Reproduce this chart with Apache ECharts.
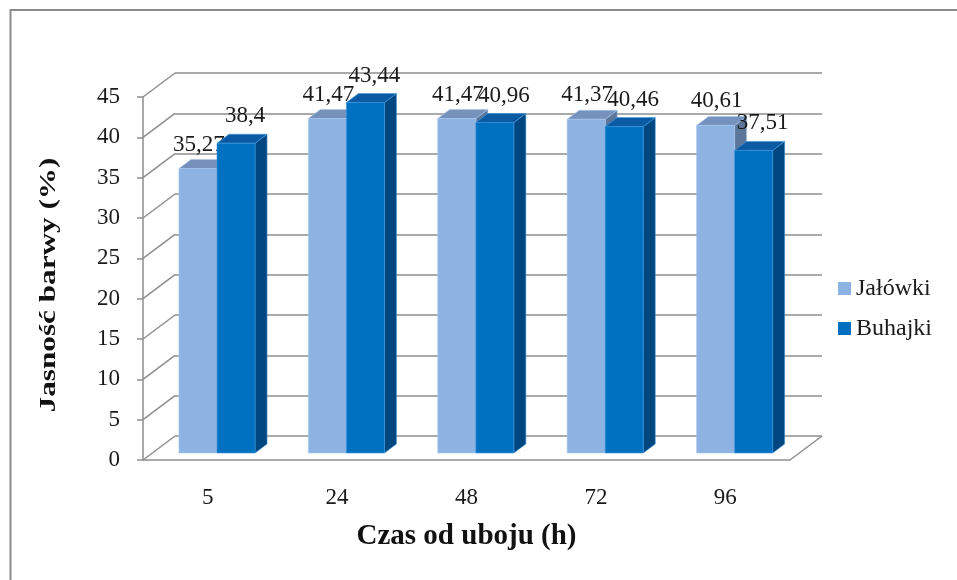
<!DOCTYPE html>
<html>
<head>
<meta charset="utf-8">
<script src="https://cdn.jsdelivr.net/npm/echarts@6/dist/echarts.min.js"></script>
<style>
  html, body { margin: 0; padding: 0; background: #fff; }
  #chart { width: 957px; height: 580px; }
</style>
</head>
<body>
<div id="chart"></div>
<script>
// Czas od uboju (h) – kategorie osi X
const categories = ['5', '24', '48', '72', '96'];
// Jasność barwy (%) dla obu grup
const jalowki = [35.27, 41.47, 41.47, 41.37, 40.61];
const buhajki = [38.4, 43.44, 40.96, 40.46, 37.51];
// Podziałka osi Y
const yTicks = [0, 5, 10, 15, 20, 25, 30, 35, 40, 45];

const FONT = "'Liberation Serif', 'Times New Roman', serif";
const GRID_COLOR = '#8e8e8e';

// pseudo-3D geometry (pixels)
const WALL_DX = 32, WALL_DY = -24;     // depth of floor / side wall
const PLANE_DX = 9.3, PLANE_DY = -7;   // columns stand in the middle of the floor
const BAR_DX = 12, BAR_DY = -9;        // depth of each column
const BAR_RATIO = 0.294;               // column width as share of category

const palettes = [
  { front: '#8db3e2', top: '#7592bd', side: '#5b7699', edge: '#a9c6ec', labelDx: 1, labelGap: 15 },
  { front: '#0070c0', top: '#0a5ba4', side: '#00467f', edge: '#3d97dd', labelDx: 9, labelGap: 18 }
];

function fmt(v) { return String(v).replace('.', ','); }

function barRenderer(seriesIdx) {
  const pal = palettes[seriesIdx];
  return function (params, api) {
    const cat = api.value(0), v = api.value(1);
    const base = api.coord([cat, 0]);
    const top = api.coord([cat, v]);
    const catW = api.size([1, 0])[0];
    const w = catW * BAR_RATIO;
    const x0 = (seriesIdx === 0 ? base[0] - w : base[0]) + PLANE_DX;
    const x1 = x0 + w;
    const ty = top[1] + PLANE_DY;
    const by = base[1] + PLANE_DY;
    return {
      type: 'group',
      children: [
        { type: 'polygon', shape: { points: [[x1, ty], [x1 + BAR_DX, ty + BAR_DY], [x1 + BAR_DX, by + BAR_DY], [x1, by]] },
          style: { fill: pal.side, stroke: pal.edge, lineWidth: 0.6 } },
        { type: 'polygon', shape: { points: [[x0, ty], [x1, ty], [x1 + BAR_DX, ty + BAR_DY], [x0 + BAR_DX, ty + BAR_DY]] },
          style: { fill: pal.top, stroke: pal.edge, lineWidth: 0.6 } },
        { type: 'rect', shape: { x: x0, y: ty, width: w, height: by - ty },
          style: { fill: pal.front, stroke: pal.edge, lineWidth: 0.6 } },
        { type: 'text', x: x0 + w / 2 + pal.labelDx, y: ty + BAR_DY - pal.labelGap,
          style: { text: fmt(v), font: '23px ' + FONT, fill: '#1a1a1a', align: 'center', verticalAlign: 'middle' } }
      ]
    };
  };
}

// side wall diagonals and the floor's right edge
function wallRenderer(params, api) {
  const v = api.value(1);
  const p = api.coord([0, v]);
  const catW = api.size([1, 0])[0];
  const left = p[0] - catW / 2;
  const lineStyle = { stroke: GRID_COLOR, lineWidth: 1.5 };
  const children = [
    { type: 'line', shape: { x1: left, y1: p[1], x2: left + WALL_DX, y2: p[1] + WALL_DY }, style: lineStyle }
  ];
  if (v === 0) {
    const right = api.coord([categories.length - 1, 0])[0] + catW / 2;
    children.push({ type: 'line', shape: { x1: right, y1: p[1], x2: right + WALL_DX, y2: p[1] + WALL_DY }, style: lineStyle });
  }
  return { type: 'group', children };
}

const chart = echarts.init(document.getElementById('chart'), null, { renderer: 'canvas' });

chart.setOption({
  animation: false,
  backgroundColor: '#ffffff',
  textStyle: { fontFamily: FONT },
  graphic: [
    { type: 'rect', left: 8, top: 7.5, shape: { x: 0, y: 0, width: 1000, height: 1000 },
      style: { fill: 'none', stroke: '#8a8a8a', lineWidth: 2 }, z: 0 },
    // vertical axis title, drawn slightly stretched along its length
    { type: 'text', x: 49, y: 285, rotation: Math.PI / 2, scaleX: 1.3,
      style: { text: 'Jasność barwy (%)', font: 'bold 24px ' + FONT, fill: '#111', align: 'center', verticalAlign: 'middle' } }
  ],
  legend: {
    orient: 'vertical',
    left: 838,
    top: 276.5,
    padding: 0,
    itemWidth: 13,
    itemHeight: 13,
    itemGap: 16,
    icon: 'rect',
    textStyle: { fontFamily: FONT, fontSize: 24, color: '#1a1a1a', lineHeight: 23 },
    data: ['Jałówki', 'Buhajki']
  },
  grid: [
    { left: 143, right: 167, top: 97, bottom: 120 },
    { left: 143 + WALL_DX, right: 167 - WALL_DX, top: 97 + WALL_DY, bottom: 120 - WALL_DY }
  ],
  xAxis: [
    {
      type: 'category', gridIndex: 0, data: categories,
      axisLine: { lineStyle: { color: GRID_COLOR, width: 1.5 } },
      axisTick: { length: 8, lineStyle: { color: GRID_COLOR, width: 1.5 } },
      axisLabel: { margin: 26, fontSize: 23, color: '#1a1a1a', fontFamily: FONT },
      name: 'Czas od uboju (h)', nameLocation: 'middle', nameGap: 62,
      nameTextStyle: { fontSize: 29, fontWeight: 'bold', color: '#111', fontFamily: FONT }
    },
    { type: 'category', gridIndex: 1, data: categories, show: false }
  ],
  yAxis: [
    {
      type: 'value', gridIndex: 0, min: 0, max: 45, interval: 5,
      axisLine: { show: true, lineStyle: { color: GRID_COLOR, width: 1.5 } },
      axisTick: { show: true, length: 6, lineStyle: { color: GRID_COLOR, width: 1.5 } },
      splitLine: { show: false },
      axisLabel: { margin: 23, fontSize: 23, color: '#1a1a1a', fontFamily: FONT }
    },
    {
      type: 'value', gridIndex: 1, min: 0, max: 45, interval: 5,
      axisLine: { show: false }, axisTick: { show: false }, axisLabel: { show: false },
      splitLine: { show: true, lineStyle: { color: GRID_COLOR, width: 1.5 } }
    }
  ],
  series: [
    {
      type: 'custom', name: 'walls', xAxisIndex: 0, yAxisIndex: 0, z: 1, clip: false,
      renderItem: wallRenderer, silent: true,
      data: yTicks.map(t => [0, t])
    },
    {
      type: 'custom', name: 'Jałówki', xAxisIndex: 0, yAxisIndex: 0, z: 5, clip: false,
      itemStyle: { color: palettes[0].front },
      renderItem: barRenderer(0),
      data: jalowki.map((v, i) => [i, v])
    },
    {
      type: 'custom', name: 'Buhajki', xAxisIndex: 0, yAxisIndex: 0, z: 6, clip: false,
      itemStyle: { color: palettes[1].front },
      renderItem: barRenderer(1),
      data: buhajki.map((v, i) => [i, v])
    }
  ]
});
</script>
</body>
</html>
